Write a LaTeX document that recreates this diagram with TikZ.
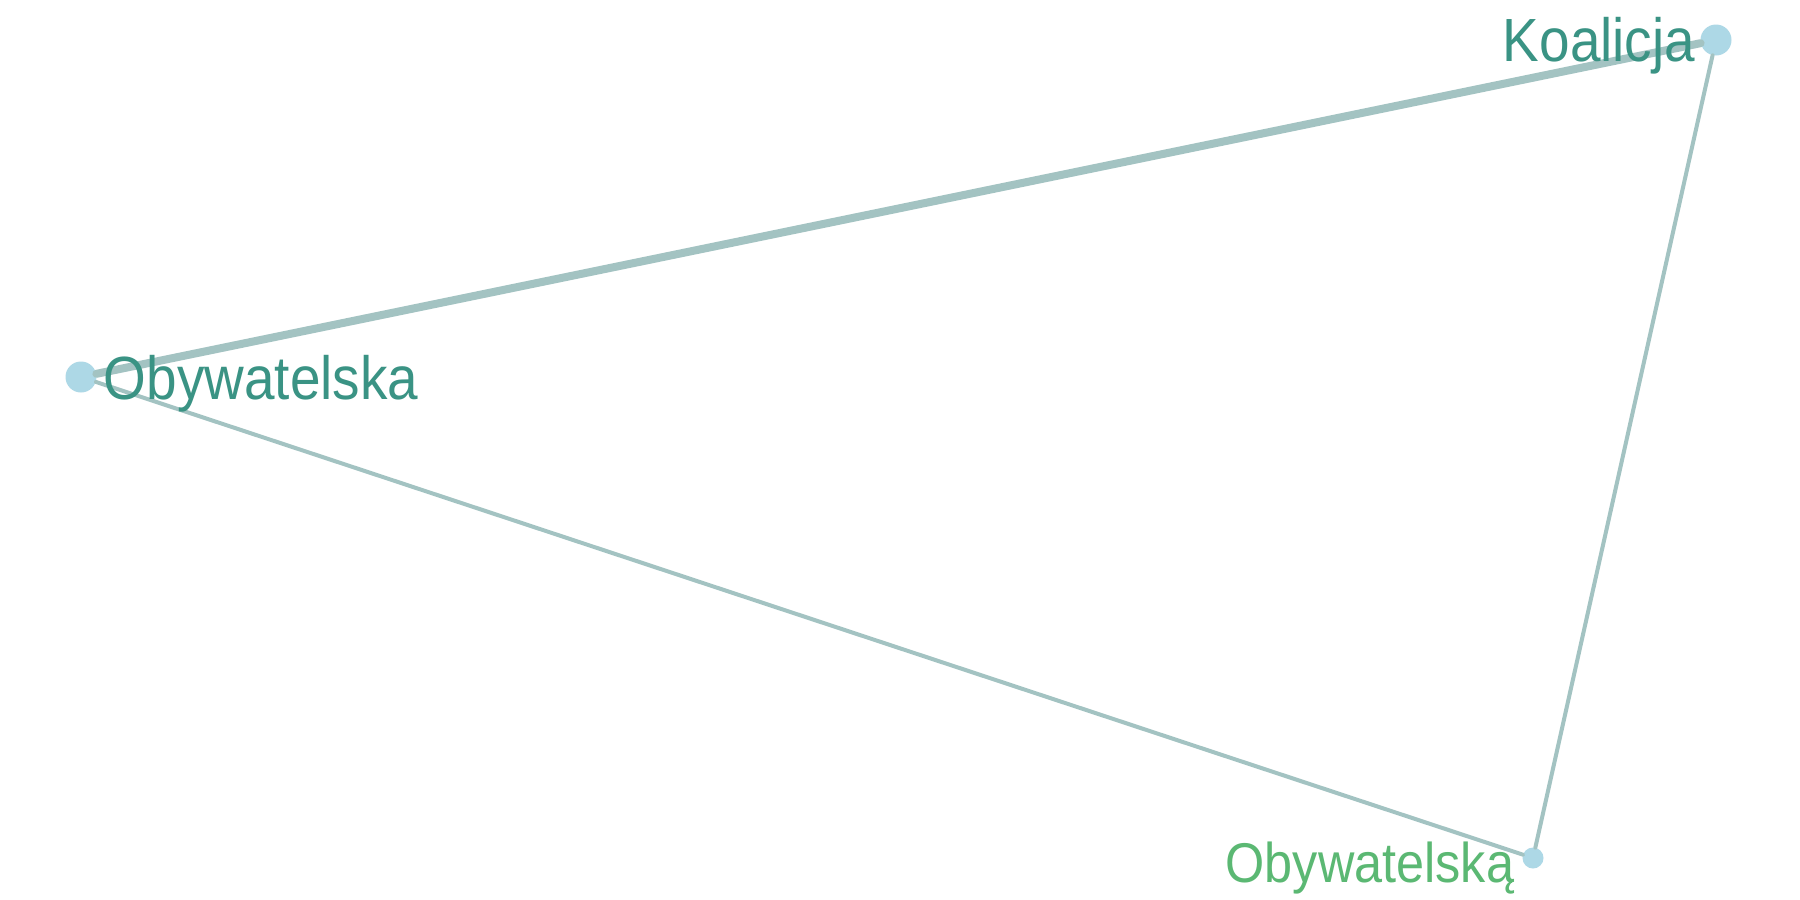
\documentclass[tikz,border=0pt]{standalone}
\usepackage{fontspec}
\setmainfont{Liberation Sans}
\usepackage{xcolor}
\usepackage{tikz}

\definecolor{nodeblue}{HTML}{ADD8E6}
\definecolor{edgegrey}{HTML}{A3C3C2}
\definecolor{termteal}{HTML}{3A9384}
\definecolor{termgreen}{HTML}{5BB873}

\newcommand{\narrow}[1]{\scalebox{0.9}[1]{#1}}

\begin{document}
\begin{tikzpicture}[
    x=1pt, y=-1pt,
    vertex/.style={circle, fill=nodeblue, inner sep=0pt},
    link/.style={color=edgegrey, line cap=round},
    term/.style={inner sep=0pt, font=\fontsize{61}{66}\selectfont, text=termteal},
  ]
  \useasboundingbox[fill=white] (0, 0) rectangle (1800, 900);

  \node[vertex, minimum size=31pt] (koalicja) at (1716, 40) {};
  \node[vertex, minimum size=31pt] (obywatelska) at (81, 377) {};
  \node[vertex, minimum size=21pt] (obywatelska2) at (1533, 858) {};

  \draw[link, line width=8pt] (obywatelska) -- (koalicja);
  \draw[link, line width=4pt] (obywatelska) -- (obywatelska2);
  \draw[link, line width=4pt] (koalicja) -- (obywatelska2);

  \node[term, anchor=base east] (koalicja-label)
    at ([xshift=-5pt, yshift=-21pt]koalicja.west) {\narrow{Koalicja}};
  \node[term, anchor=base west] (obywatelska-label)
    at ([xshift=7pt, yshift=-22pt]obywatelska.east) {\narrow{Obywatelska}};
  \node[term, anchor=base east, text=termgreen, font=\fontsize{56}{60}\selectfont] (obywatelska2-label)
    at ([xshift=-8pt, yshift=-24pt]obywatelska2.west) {\narrow{Obywatelską}};
\end{tikzpicture}
\end{document}
